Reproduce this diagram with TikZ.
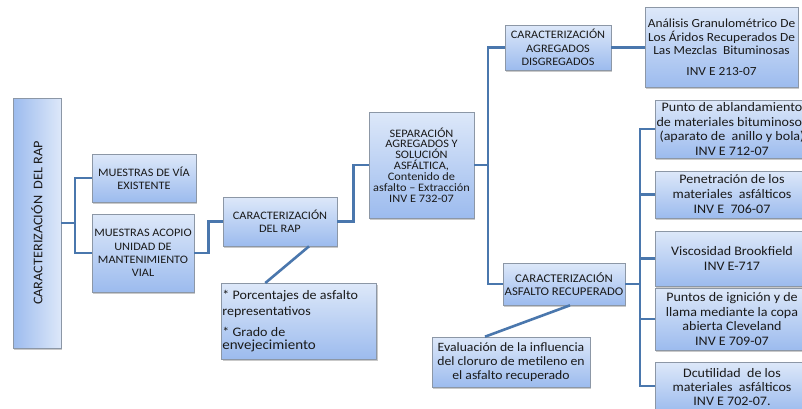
\documentclass[tikz,border=0pt]{standalone}
\usepackage{fontspec}
\setmainfont{Carlito}[FakeStretch=1.08]
\usetikzlibrary{shadows,calc}
\definecolor{boxtop}{HTML}{DDE8F9}
\definecolor{boxbot}{HTML}{9CBBEE}
\definecolor{boxborder}{HTML}{8C97A6}
\definecolor{conn}{HTML}{4A77AD}
\definecolor{txt}{HTML}{1A1A1A}
\tikzset{
  basebox/.style={draw=boxborder, line width=0.6pt,
    align=center, inner sep=1pt, text=txt,
    drop shadow={shadow xshift=1.2pt, shadow yshift=-1.5pt, opacity=0.35, fill=black!60}},
  box/.style={basebox, top color=boxtop, bottom color=boxbot},
  capsf/.style={font=\fontsize{11.4}{13.3}\selectfont},
  bodyf/.style={font=\fontsize{13}{14.4}\selectfont},
  conline/.style={draw=conn, line width=2.6pt},
}
\begin{document}
\begin{tikzpicture}[x=1pt,y=-1pt]
\useasboundingbox (0,0) rectangle (802,408);
\fill[white] (0,0) rectangle (802,408);
\begin{scope}
\clip (0,0) rectangle (802,408);
% nodes
\node[basebox, rotate=90, left color=boxbot, right color=boxtop,
  minimum width=250pt, minimum height=48pt, font=\fontsize{13.2}{16}\selectfont] (main) at (37,223) {CARACTERIZACIÓN\ \ DEL RAP};
\node[box, capsf, minimum width=104pt, minimum height=48pt] (via) at (144,178) {MUESTRAS DE VÍA\\EXISTENTE};
\node[box, capsf, minimum width=102pt, minimum height=78pt] (acopio) at (143,253) {MUESTRAS ACOPIO\\UNIDAD DE\\MANTENIMIENTO\\VIAL};
\node[box, capsf, minimum width=114pt, minimum height=49pt] (rap) at (280,221.5) {CARACTERIZACIÓN\\DEL RAP};
\node[box, align=left, anchor=north west, minimum width=155pt, minimum height=76pt, inner sep=1pt, text width=153pt] (note) at (221,283)
 {\fontsize{13}{15.5}\selectfont * Porcentajes de asfalto\\representativos\\[6pt]* Grado de\\[1pt]{\fontsize{13.9}{15.5}\selectfont envejecimiento}};
\node[box, font=\fontsize{11.4}{10.9}\selectfont, minimum width=105pt, minimum height=106pt] (sep) at (421.5,165)
 {SEPARACIÓN\\AGREGADOS Y\\SOLUCIÓN\\ASFÁLTICA,\\Contenido de\\asfalto – Extracción\\INV E 732-07};
\node[box, capsf, minimum width=106pt, minimum height=45pt] (agr) at (558,47.5) {CARACTERIZACIÓN\\AGREGADOS\\DISGREGADOS};
\node[box, font=\fontsize{12.4}{13.3}\selectfont, minimum width=153pt, minimum height=80pt] (anal) at (721.5,47.5)
 {Análisis Granulométrico De\\Los Áridos Recuperados De\\Las Mezclas\ \ Bituminosas\\[8pt]INV E 213-07};
\node[box, font=\fontsize{11.8}{13.3}\selectfont, minimum width=122pt, minimum height=42pt] (asf) at (564,284) {CARACTERIZACIÓN\\ASFALTO RECUPERADO};
\node[box, font=\fontsize{12.7}{14.2}\selectfont, minimum width=158pt, minimum height=50pt] (eval) at (511,362)
 {Evaluación de la influencia\\del cloruro de metileno\ en\\el asfalto recuperado};
\node[box, bodyf, minimum width=154pt, minimum height=58pt] (punto) at (732,129)
 {Punto de ablandamiento\\de materiales bituminosos\\(aparato de\ \ anillo y bola)\\INV E 712-07};
\node[box, bodyf, font=\fontsize{13}{15}\selectfont, minimum width=154pt, minimum height=47pt] (pene) at (732,194.5)
 {Penetración de los\\materiales\ \ asfálticos\\INV E\ \ 706-07};
\node[box, bodyf, minimum width=154pt, minimum height=55pt] (visc) at (732,258.5)
 {Viscosidad Brookfield\\INV E-717};
\node[box, bodyf, minimum width=154pt, minimum height=62pt] (puntos) at (732,319)
 {Puntos de ignición y de\\llama mediante la copa\\abierta Cleveland\\INV E 709-07};
\node[box, bodyf, font=\fontsize{13}{13.8}\selectfont, anchor=north, minimum width=154pt, minimum height=50pt] (dcut) at (732,362)
 {Dcutilidad\ \ de los\\materiales\ \ asfálticos\\INV E 702-07.};
% junctions
\coordinate (j1) at (75,223);
\coordinate (j2) at (488,165);
\coordinate (j3) at (640,284);
% connectors
\draw[conline] (main.south) -- (j1);
\draw[conline] (via.west) -| (j1) |- (acopio.west);
\draw[conline] (acopio.east) -- ++(14,0) |- (rap.west);
\draw[conline] (rap.east) -- ++(16,0) |- (sep.west);
\draw[conline] (sep.east) -- (j2);
\draw[conline] (agr.west) -| (j2) |- (asf.west);
\draw[conline] (agr.east) -- (anal.west);
\draw[conline] (asf.east) -- (j3);
\draw[conline] (punto.west) -| (j3) |- ([yshift=-24pt]dcut.north west);
\draw[conline] (j3 |- pene.west) -- (pene.west);
\draw[conline] (j3 |- visc.west) -- (visc.west);
\draw[conline] (j3 |- puntos.west) -- (puntos.west);
\draw[conline] ([xshift=29pt]rap.south) -- ([xshift=-33.5pt]note.north);
\draw[conline] ([xshift=6pt]asf.south) -- ([xshift=-26pt]eval.north);
\end{scope}
\end{tikzpicture}
\end{document}
